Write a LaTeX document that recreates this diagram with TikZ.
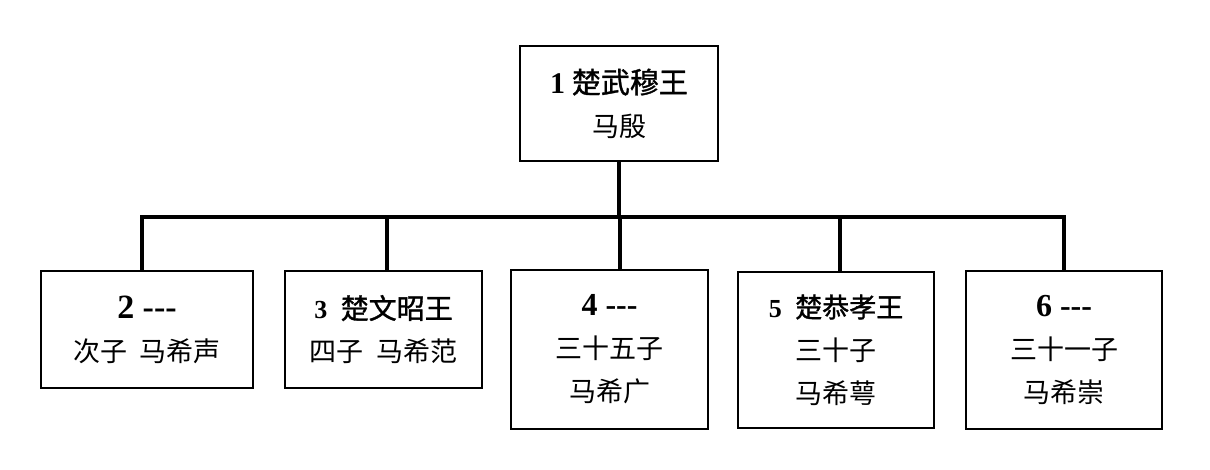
\documentclass[tikz,border=0pt]{standalone}
\usepackage{fontspec}
\setmainfont{Liberation Serif}
\newfontfamily\cjk{Noto Sans CJK SC}
\newfontfamily\cjkb[FakeBold=1.2]{Noto Sans CJK SC}
\begin{document}
\begin{tikzpicture}[x=1pt,y=-1pt,
  box/.style={draw,line width=2pt,rectangle,inner sep=0pt,align=center,font=\fontsize{27}{43}\selectfont},
  conn/.style={line width=4pt}]
\useasboundingbox (0,0) rectangle (1210,470);
\newcommand{\numh}[2]{{\fontsize{#1}{43}\selectfont\bfseries #2}}
\newcommand{\tdash}{-{}-{}-}
\node[box,minimum width=198pt,minimum height=115pt] (top) at (619,103.5)
  {\numh{30}{1} {\fontsize{29}{43}\selectfont\cjkb 楚武穆王}\\{\cjk 马殷}};
\node[box,minimum width=212pt,minimum height=117pt] (b2) at (147,329.5)
  {\numh{34}{2 \tdash}\\{\cjk 次子\ \ 马希声}};
\node[box,minimum width=197pt,minimum height=117pt] (b3) at (383.5,329.5)
  {\numh{26}{3}\ \ {\fontsize{28}{43}\selectfont\cjkb 楚文昭王}\\{\cjk 四子\ \ 马希范}};
\node[box,minimum width=197pt,minimum height=159pt] (b4) at (609.5,349.5)
  {\numh{32}{4 \tdash}\\{\cjk 三十五子}\\{\cjk 马希广}};
\node[box,minimum width=196pt,minimum height=156pt] (b5) at (836,350)
  {\numh{26}{5}\ \ {\fontsize{27}{43}\selectfont\cjkb 楚恭孝王}\\{\cjk 三十子}\\{\cjk 马希萼}};
\node[box,minimum width=196pt,minimum height=158pt] (b6) at (1064,350)
  {\numh{32}{6 \tdash}\\{\cjk 三十一子}\\{\cjk 马希崇}};
\coordinate (barL) at (142,217);
\coordinate (barR) at (1064,217);
\coordinate (d3) at (387,217);
\coordinate (d4) at (620,217);
\coordinate (d5) at (840,217);
\draw[conn] (b2.north -| barL) -- (barL) -- (barR) -- (b6.north -| barR);
\draw[conn] (top.south) -- (top.south |- barL);
\draw[conn] (d3) -- (d3 |- b3.north);
\draw[conn] (d4) -- (d4 |- b4.north);
\draw[conn] (d5) -- (d5 |- b5.north);
\end{tikzpicture}
\end{document}
